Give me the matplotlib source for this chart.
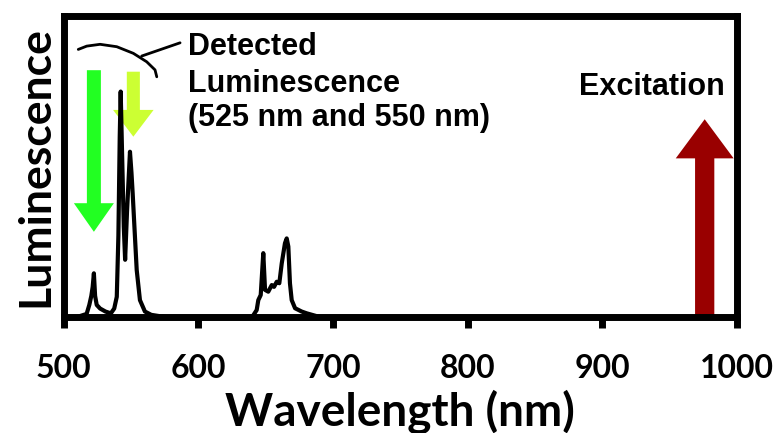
import matplotlib
matplotlib.use('Agg')
import matplotlib.pyplot as plt

# spectrum (wavelength in nm, luminescence in arbitrary units)
wavelength = [500, 510, 517, 519, 520.5, 521.5, 522.4, 523.3, 524.5, 527, 531, 535,
              537.5, 539.4, 540.6, 541.6, 542.3, 543.3, 544.6, 545.6, 547, 549.2,
              550.3, 551.2, 552.5, 554.2, 556.6, 560.3, 565, 575,
              640, 643.3, 644.5, 646.3, 648.2, 649.5, 651.9, 654.5, 656.2, 658.2,
              660.1, 661.9, 664.3, 665.6, 666.8, 668.0, 669.3, 671.8, 676.7, 680.5,
              690, 1000]
luminescence = [0, 0, 0.01, 0.04, 0.07, 0.10, 0.145, 0.07, 0.04, 0.028, 0.018, 0.012,
                0.028, 0.067, 0.27, 0.60, 0.749, 0.55, 0.30, 0.19, 0.35, 0.549,
                0.48, 0.411, 0.30, 0.156, 0.056, 0.018, 0.007, 0,
                0, 0.023, 0.056, 0.073, 0.212, 0.09, 0.084, 0.106, 0.10, 0.117,
                0.112, 0.178, 0.245, 0.261, 0.234, 0.112, 0.056, 0.029, 0.018, 0.012,
                0, 0]

xticks = [500, 600, 700, 800, 900, 1000]
detected_lines = ['Detected', 'Luminescence', '(525 nm and 550 nm)']

plt.rcParams['font.family'] = ['Lato', 'DejaVu Sans']
plt.rcParams['font.weight'] = 'bold'

fig = plt.figure(figsize=(7.79, 4.33), dpi=100)
ax = fig.add_axes([0.0818, 0.268, 0.8643, 0.695])

# arrows (behind the spectrum)
ax.arrow(522.4, 0.82, 0, 0.283 - 0.82, width=10.4, head_width=29.7, head_length=0.095,
         length_includes_head=True, color='#22ff22', lw=0, zorder=1)
ax.arrow(551.7, 0.815, 0, 0.599 - 0.815, width=9.7, head_width=30.1, head_length=0.089,
         length_includes_head=True, color='#ccff33', lw=0, zorder=1)
ax.arrow(976.0, 0.0, 0, 0.657, width=14.3, head_width=43, head_length=0.13,
         length_includes_head=True, color='#990000', lw=0, zorder=1)

ax.plot(wavelength, luminescence, color='black', lw=3, zorder=3,
        solid_joinstyle='round')

# bracket over the two green bands + leader line to the label
ax.plot([510.8, 517.1, 527.0, 539.4, 551.7, 561.6, 567.8, 569.1],
        [0.889, 0.900, 0.906, 0.898, 0.876, 0.848, 0.821, 0.798],
        color='black', lw=2, zorder=3, solid_capstyle='round')
ax.plot([557.9, 586.4], [0.867, 0.911], color='black', lw=2, zorder=3,
        solid_capstyle='round')

for txt, yb in zip(detected_lines, [0.870, 0.749, 0.636]):
    ax.text(592.5, yb, txt, family='Liberation Sans', fontweight='bold',
            fontsize=22, va='baseline', ha='left')
ax.text(936.9, 0.738, 'Excitation', family='Liberation Sans', fontweight='bold',
        fontsize=22, va='baseline', ha='center')

ax.set_xlim(500, 1000)
ax.set_ylim(0, 1)
ax.set_xticks(xticks)
ax.set_yticks([])
ax.tick_params(axis='x', direction='out', length=8, width=5, labelsize=23, pad=19)
for sp in ax.spines.values():
    sp.set_linewidth(5)
    sp.set_capstyle('projecting')

ax.set_xlabel('Wavelength (nm)', fontsize=33, fontweight='bold', labelpad=4)
ax.set_ylabel('Luminescence', fontsize=32, fontweight='bold', labelpad=6)

fig.savefig('out.png', dpi=100)
